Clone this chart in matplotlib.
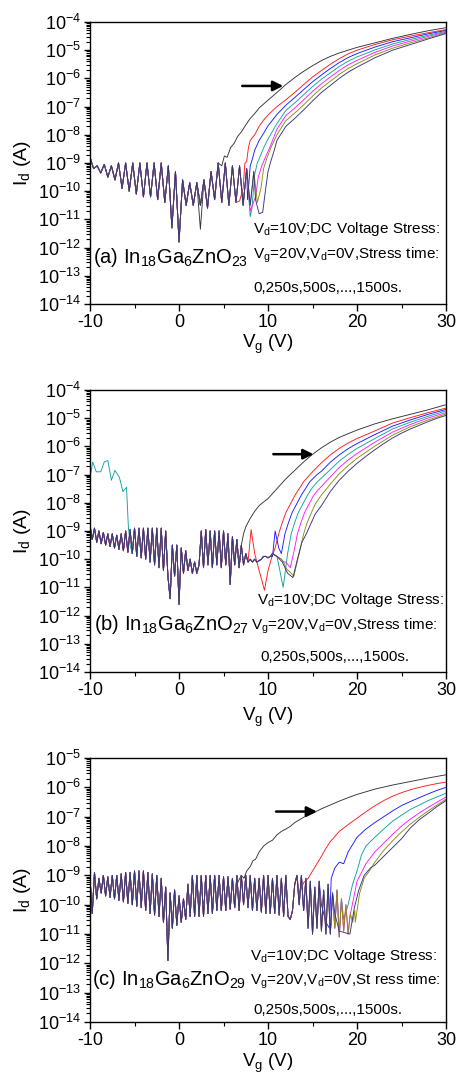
import numpy as np
import matplotlib
matplotlib.use("Agg")
import matplotlib.pyplot as plt
from matplotlib.ticker import LogLocator, MultipleLocator, NullFormatter

plt.rcParams['font.family'] = ['Liberation Sans', 'DejaVu Sans']
plt.rcParams['mathtext.fontset'] = 'custom'
plt.rcParams['mathtext.rm'] = 'Liberation Sans'
plt.rcParams['mathtext.it'] = 'Liberation Sans'
plt.rcParams['mathtext.bf'] = 'Liberation Sans:bold'
plt.rcParams['mathtext.default'] = 'regular'
plt.rcParams['axes.unicode_minus'] = False

# ---------------- data (log10 of Id in A) ----------------
stress_times = [0, 250, 500, 750, 1000, 1250, 1500]
colors = ['#333333', '#ff1a1a', '#1a1aff', '#14a0a0', '#ff1aff', '#8c8c14', '#34347e']

# panel (a): off-state noise, Vg = -10 ... 10 step 0.4
noise_a = [-8.8, -9.2, -9.1, -9.35, -9.05, -9.5, -9.1, -9.6, -9.0, -9.9,
           -9.0, -10.0, -9.0, -10.1, -9.0, -10.2, -9.0, -10.2, -9.0, -10.3,
           -9.0, -10.4, -9.1, -11.3, -9.3, -11.8, -9.6, -10.5, -9.7, -10.5,
           -9.7, -10.5, -9.6, -10.6, -9.3, -10.3, -9.0, -10.4, -9.0, -10.5,
           -9.1, -10.4, -9.1, -10.5, -9.2, -10.5, -9.3, -10.4, -9.5, -10.4,
           -9.6]
a_black = [(2.0, -9.7), (2.4, -11.35), (2.8, -9.6), (3.2, -10.5), (3.6, -9.3), (4.0, -10.2),
           (4.4, -9.0), (4.8, -9.1), (5.1, -8.75), (5.4, -8.8), (5.8, -8.45), (6.2, -8.3),
           (6.6, -8.05), (7.0, -7.9), (7.5, -7.65), (8.0, -7.42), (8.5, -7.25), (9.0, -7.05),
           (10, -6.77), (11, -6.5), (12, -6.22), (13, -5.97), (14, -5.75), (15, -5.55),
           (16, -5.37), (17, -5.22), (18, -5.1), (19, -5.0), (20, -4.9), (22, -4.74),
           (24, -4.58), (26, -4.44), (28, -4.31), (30, -4.2)]
a_red = [(6.8, -10.35), (7.2, -9.9), (7.4, -9.0), (7.6, -8.95), (7.8, -8.45), (8.0, -8.2),
         (8.5, -8.0), (9.0, -7.7), (9.5, -7.48), (10, -7.3), (11, -7.0), (12, -6.76),
         (13, -6.5), (14, -6.22), (15, -5.95), (16, -5.72), (17, -5.5), (18, -5.3),
         (19, -5.13), (20, -5.0), (22, -4.8), (24, -4.63), (26, -4.5), (28, -4.38), (30, -4.27)]
a_blue = [(7.7, -10.3), (8.0, -9.1), (8.2, -8.9), (8.5, -8.55), (9.0, -8.2), (9.5, -7.95),
          (10, -7.68), (11, -7.28), (12, -6.95), (13, -6.68), (14, -6.4), (15, -6.12),
          (16, -5.88), (17, -5.65), (18, -5.44), (19, -5.26), (20, -5.12), (22, -4.89),
          (24, -4.7), (26, -4.56), (28, -4.42), (30, -4.3)]
a_teal = [(8.0, -10.9), (8.2, -10.6), (8.5, -9.4), (8.8, -9.0), (9.2, -8.7), (9.6, -8.4),
          (10, -8.15), (11, -7.6), (12, -7.14), (13, -6.87), (14, -6.58), (15, -6.29),
          (16, -6.03), (17, -5.8), (18, -5.58), (19, -5.39), (20, -5.24), (22, -4.99),
          (24, -4.78), (26, -4.62), (28, -4.47), (30, -4.33)]
a_magenta = [(8.0, -10.7), (8.6, -10.2), (8.9, -9.5), (9.3, -9.1), (9.7, -8.8), (10.2, -8.45),
             (11, -7.8), (12, -7.32), (13, -7.05), (14, -6.76), (15, -6.46), (16, -6.19),
             (17, -5.95), (18, -5.72), (19, -5.52), (20, -5.36), (22, -5.08), (24, -4.85),
             (26, -4.68), (28, -4.51), (30, -4.36)]
a_olive = [(8.8, -10.4), (9.2, -9.9), (9.5, -9.2), (9.9, -8.8), (10.4, -8.4), (11, -8.0),
           (12, -7.5), (13, -7.23), (14, -6.94), (15, -6.63), (16, -6.34), (17, -6.1),
           (18, -5.86), (19, -5.65), (20, -5.48), (22, -5.17), (24, -4.93), (26, -4.74),
           (28, -4.56), (30, -4.38)]
a_navy = [(8.6, -10.3), (9.0, -10.8), (9.4, -10.75), (9.7, -10.0), (10.0, -9.3), (10.3, -8.95),
          (10.7, -8.55), (11, -8.2), (11.5, -7.95), (12, -7.7), (13, -7.42), (14, -7.12),
          (15, -6.8), (16, -6.5), (17, -6.25), (18, -6.0), (19, -5.78), (20, -5.6),
          (22, -5.27), (24, -5.0), (26, -4.8), (28, -4.6), (30, -4.41)]

# panel (b): off-state noise, Vg = -10 ... 14 step 0.25
noise_b = [-8.8, -9.3, -8.9, -9.4, -9.0, -9.45, -9.05, -9.5,
           -9.1, -9.55, -9.1, -9.6, -9.15, -9.65, -9.1, -9.7,
           -9.0, -9.75, -8.95, -9.8, -8.9, -9.9, -8.9, -9.95,
           -8.9, -10.0, -8.9, -10.1, -8.9, -10.2, -8.9, -10.3,
           -8.9, -10.4, -9.0, -10.6, -11.4, -9.5, -10.6, -9.5,
           -11.6, -9.6, -10.5, -9.7, -10.4, -10.0, -10.5, -10.1,
           -10.5, -10.2, -9.0, -10.3, -8.95, -10.2, -9.0, -10.3,
           -9.0, -10.2, -9.0, -10.3, -9.0, -10.2, -9.1, -10.9,
           -9.2, -10.2, -9.3, -10.3, -9.5, -10.2, -9.8, -10.1,
           -10.0, -10.1, -10.0, -10.1, -10.05, -10.0, -9.9, -9.9,
           -9.95, -9.9, -9.8, -9.85, -9.9, -9.95, -10.0, -10.1,
           -10.3, -10.4, -10.5, -10.55, -10.6, -10.2, -9.8, -9.5,
           -9.2]
b_teal_pre = [(-10.0, -7.1), (-9.7, -6.55), (-9.3, -6.9), (-8.8, -6.9), (-8.4, -6.55),
              (-8.0, -6.5), (-7.6, -7.2), (-7.2, -6.85), (-6.7, -7.1), (-6.3, -7.6),
              (-5.9, -7.45), (-5.7, -8.8), (-5.5, -9.5)]
b_black = [(6.75, -10.3), (7.0, -9.5), (7.25, -9.1), (7.5, -8.85), (7.75, -8.7), (8.0, -8.55),
           (8.5, -8.3), (9.0, -8.1), (9.5, -7.97), (10, -7.85), (11, -7.5), (12, -7.15),
           (13, -6.85), (14, -6.55), (15, -6.28), (16, -6.05), (17, -5.85), (18, -5.68),
           (19, -5.55), (20, -5.42), (22, -5.2), (24, -5.02), (26, -4.86), (28, -4.7), (30, -4.52)]
b_red = [(7.75, -10.1), (8.1, -8.95), (8.5, -9.8), (9.0, -10.4), (9.6, -11.1), (10.0, -10.4),
         (10.4, -9.95), (10.8, -9.6), (11.2, -9.1), (11.6, -8.7), (12.0, -8.35), (12.5, -8.05),
         (13, -7.75), (13.5, -7.5), (14, -7.25), (15, -6.9), (16, -6.58), (17, -6.3),
         (18, -6.07), (19, -5.88), (20, -5.72), (22, -5.45), (24, -5.17), (26, -4.98),
         (28, -4.8), (30, -4.64)]
b_blue = [(10.5, -9.9), (10.8, -9.0), (11.2, -9.6), (11.5, -9.8), (11.9, -9.1), (12.3, -8.7),
          (12.7, -8.35), (13.2, -8.05), (13.7, -7.75), (14.2, -7.5), (14.7, -7.25), (15.5, -7.0),
          (16, -6.88), (17, -6.56), (18, -6.3), (19, -6.08), (20, -5.9), (22, -5.58),
          (24, -5.28), (26, -5.06), (28, -4.86), (30, -4.69)]
b_teal = [(11.2, -10.2), (11.7, -11.0), (12.2, -9.8), (12.6, -9.1), (13.0, -8.7), (13.4, -8.35),
          (13.9, -8.05), (14.4, -7.75), (14.9, -7.5), (15.4, -7.3), (16, -7.12), (17, -6.82),
          (18, -6.52), (19, -6.28), (20, -6.07), (22, -5.72), (24, -5.38), (26, -5.14),
          (28, -4.93), (30, -4.74)]
b_magenta = [(12.0, -10.1), (12.5, -10.3), (13.0, -9.6), (13.3, -9.1), (13.7, -8.7), (14.1, -8.35),
             (14.6, -8.05), (15.1, -7.75), (15.6, -7.55), (16, -7.42), (17, -7.08), (18, -6.75),
             (19, -6.48), (20, -6.25), (22, -5.85), (24, -5.49), (26, -5.22), (28, -4.99),
             (30, -4.8)]
b_olive = [(12.3, -10.4), (12.9, -10.6), (13.5, -9.8), (14.0, -9.1), (14.4, -8.7), (14.8, -8.4),
           (15.3, -8.05), (16, -7.72), (17, -7.34), (18, -6.97), (19, -6.68), (20, -6.42),
           (22, -5.99), (24, -5.6), (26, -5.3), (28, -5.06), (30, -4.85)]
b_navy = [(11.0, -9.9), (11.6, -10.1), (12.2, -10.5), (12.8, -10.65), (13.3, -10.0), (13.8, -9.4),
          (14.3, -9.1), (14.8, -8.75), (15.3, -8.4), (16, -8.1), (16.5, -7.85), (17, -7.6),
          (18, -7.2), (19, -6.88), (20, -6.6), (21, -6.35), (22, -6.12), (23, -5.9),
          (24, -5.7), (25, -5.53), (26, -5.38), (27, -5.25), (28, -5.12), (29, -5.0), (30, -4.9)]

# panel (c): off-state noise, Vg = -10 ... 20 step 0.25
noise_c = [-9.1, -10.3, -8.9, -9.8, -9.1, -9.6, -9.0, -9.7,
           -9.05, -9.75, -9.0, -9.8, -9.0, -9.85, -8.95, -9.9,
           -8.9, -9.95, -8.9, -10.0, -8.85, -10.05, -8.85, -10.1,
           -8.85, -10.2, -8.9, -10.3, -8.95, -10.35, -9.0, -10.4,
           -9.1, -10.6, -9.4, -11.9, -9.6, -10.8, -9.5, -10.7,
           -9.7, -10.6, -9.8, -10.5, -9.3, -10.4, -9.0, -10.4,
           -9.0, -10.4, -9.0, -10.4, -9.0, -10.3, -9.0, -10.3,
           -9.0, -10.2, -9.0, -10.2, -9.05, -10.2, -9.05, -10.15,
           -9.1, -10.1, -9.0, -10.2, -9.0, -10.0, -9.0, -10.1,
           -9.0, -10.2, -9.1, -10.2, -9.1, -10.25, -9.0, -10.3,
           -9.0, -10.3, -9.1, -10.3, -9.0, -10.35, -9.1, -10.4,
           -9.0, -10.4, -10.5, -10.2, -9.3, -9.0, -10.0, -9.0,
           -10.2, -9.1, -10.8, -9.2, -11.0, -9.4, -10.8, -9.2,
           -10.9, -9.5, -11.0, -9.3, -11.0, -9.6, -10.8, -9.5,
           -11.1, -9.8, -10.9, -10.0, -11.0, -10.3, -10.6, -10.2,
           -10.6]
c_black = [(6.25, -10.1), (6.5, -9.3), (7.0, -9.0), (7.3, -9.1), (7.6, -8.85), (8.0, -8.7),
           (8.3, -8.5), (8.6, -8.45), (9.0, -8.2), (9.5, -8.0), (10, -7.88), (10.5, -7.8),
           (11, -7.62), (11.5, -7.5), (12, -7.42), (12.5, -7.33), (13, -7.2), (14, -7.02),
           (15, -6.88), (16, -6.73), (17, -6.6), (18, -6.47), (19, -6.35), (20, -6.24),
           (22, -6.06), (24, -5.92), (26, -5.8), (28, -5.68), (30, -5.57)]
c_red = [(13.5, -9.6), (14.0, -9.25), (14.5, -9.1), (15, -8.85), (15.5, -8.6), (16, -8.35),
         (16.5, -8.08), (17, -7.85), (18, -7.5), (19, -7.27), (20, -7.05), (21, -6.83),
         (22, -6.63), (23, -6.45), (24, -6.3), (25, -6.18), (26, -6.08), (27, -6.0),
         (28, -5.93), (29, -5.87), (30, -5.82)]
c_blue = [(16.0, -10.0), (16.5, -10.6), (16.9, -10.8), (17.1, -9.1), (17.5, -8.75), (18, -8.55),
          (18.5, -8.6), (19, -8.2), (19.5, -7.95), (20, -7.7), (21, -7.42), (22, -7.2),
          (23, -7.0), (24, -6.8), (25, -6.62), (26, -6.48), (27, -6.35), (28, -6.22),
          (29, -6.1), (30, -6.0)]
c_teal = [(18.5, -10.5), (19.0, -10.0), (19.5, -9.3), (20, -8.85), (20.5, -8.3), (21, -8.0),
          (22, -7.7), (23, -7.42), (24, -7.15), (25, -6.95), (26, -6.75), (27, -6.6),
          (28, -6.45), (29, -6.32), (30, -6.2)]
c_magenta = [(19.2, -10.4), (19.6, -9.8), (20.0, -9.2), (20.5, -8.9), (21, -8.6), (22, -8.2),
             (23, -7.9), (24, -7.6), (25, -7.32), (26, -7.08), (27, -6.87), (28, -6.68),
             (29, -6.5), (30, -6.33)]
c_olive = [(19.8, -10.6), (20.3, -9.6), (20.8, -9.1), (21.5, -8.8), (22, -8.55), (23, -8.15),
           (24, -7.82), (25, -7.52), (26, -7.25), (27, -7.02), (28, -6.8), (29, -6.6), (30, -6.4)]
c_navy = [(17.5, -10.3), (18.0, -10.9), (18.6, -10.95), (19.2, -11.0), (19.7, -10.1), (20.2, -9.5),
          (20.8, -9.0), (21.5, -8.75), (22, -8.65), (22.5, -8.5), (23, -8.35), (23.5, -8.2),
          (24, -8.05), (24.5, -7.9), (25, -7.75), (26, -7.38), (27, -7.1), (28, -6.88),
          (29, -6.65), (30, -6.45)]

panel_titles = ['(a) In$_{18}$Ga$_6$ZnO$_{23}$', '(b) In$_{18}$Ga$_6$ZnO$_{27}$',
                '(c) In$_{18}$Ga$_6$ZnO$_{29}$']
note_line1 = 'V$_d$=10V;DC Voltage Stress:'
note_line2 = ['V$_g$=20V,V$_d$=0V,Stress time:', 'V$_g$=20V,V$_d$=0V,Stress time:',
              'V$_g$=20V,V$_d$=0V,St ress time:']
note_line3 = '0,250s,500s,...,1500s.'
y_top = [1e-4, 1e-4, 1e-5]
arrow_x = [(7.1, 11.7), (10.6, 15.1), (10.9, 15.5)]
arrow_y = [5.4e-7, 5.3e-7, 1.5e-7]

panels = [
    dict(noise=noise_a, step=0.4, curves=[([], a_black), ([], a_red), ([], a_blue), ([], a_teal),
                                          ([], a_magenta), ([], a_olive), ([], a_navy)]),
    dict(noise=noise_b, step=0.25, curves=[([], b_black), ([], b_red), ([], b_blue),
                                           (b_teal_pre, b_teal), ([], b_magenta), ([], b_olive),
                                           ([], b_navy)]),
    dict(noise=noise_c, step=0.25, curves=[([], c_black), ([], c_red), ([], c_blue), ([], c_teal),
                                           ([], c_magenta), ([], c_olive), ([], c_navy)]),
]

# layout (figure fractions)
axes_rects = [[0.197, 0.718, 0.779, 0.2616],
              [0.197, 0.3766, 0.779, 0.2616],
              [0.197, 0.0519, 0.779, 0.2449]]
text_pos = [
    dict(l1=(0.458, 0.250), t=(0.008, 0.145), l2=(0.458, 0.160), l3=(0.459, 0.042), xl=-0.103),
    dict(l1=(0.468, 0.240), t=(0.010, 0.150), l2=(0.451, 0.150), l3=(0.479, 0.040), xl=-0.12),
    dict(l1=(0.449, 0.235), t=(0.006, 0.140), l2=(0.449, 0.141), l3=(0.459, 0.032), xl=-0.113),
]


def build(noise_vals, step, pre, on):
    vg_noise = -10 + step * np.arange(len(noise_vals))
    lg_noise = np.array(noise_vals)
    lo = pre[-1][0] if pre else -np.inf
    hi = on[0][0]
    m = (vg_noise > lo + 1e-6) & (vg_noise < hi - 1e-6)
    x = np.concatenate([[p[0] for p in pre], vg_noise[m], [p[0] for p in on]])
    y = np.concatenate([[p[1] for p in pre], lg_noise[m], [p[1] for p in on]])
    return x, 10.0 ** y


fig = plt.figure(figsize=(4.57, 10.78), dpi=100)

for i, p in enumerate(panels):
    ax = fig.add_axes(axes_rects[i])
    for k, (pre, on) in enumerate(p['curves']):
        x, y = build(p['noise'], p['step'], pre, on)
        ax.plot(x, y, color=colors[k], lw=0.65, label=f'{stress_times[k]} s')
    ax.set_yscale('log')
    ax.set_xlim(-10, 30)
    ax.set_ylim(1e-14, y_top[i])
    ax.xaxis.set_major_locator(MultipleLocator(10))
    ax.xaxis.set_minor_locator(MultipleLocator(5))
    ax.yaxis.set_major_locator(LogLocator(base=10, numticks=20))
    ax.yaxis.set_minor_locator(LogLocator(base=10, subs=np.arange(2, 10), numticks=20))
    ax.yaxis.set_minor_formatter(NullFormatter())
    ax.tick_params(which='major', direction='out', length=4.5, width=1.0, labelsize=13, pad=2)
    ax.tick_params(axis='x', which='major', length=5, labelsize=13, pad=2)
    ax.tick_params(which='minor', direction='out', length=2.8, width=0.8)
    for s in ax.spines.values():
        s.set_linewidth(1.0)
    ax.set_ylabel('I$_d$ (A)', fontsize=14)
    ax.set_xlabel('V$_g$ (V)', fontsize=13.5)
    ax.yaxis.set_label_coords(-0.16, 0.5)
    ax.xaxis.set_label_coords(0.5, text_pos[i]['xl'])

    tp = text_pos[i]
    ax.text(*tp['l1'], note_line1, transform=ax.transAxes, fontsize=11, va='baseline')
    ax.text(*tp['t'], panel_titles[i], transform=ax.transAxes, fontsize=14.5, va='baseline')
    ax.text(*tp['l2'], note_line2[i], transform=ax.transAxes, fontsize=11, va='baseline')
    ax.text(*tp['l3'], note_line3, transform=ax.transAxes, fontsize=11, va='baseline')

    ax.annotate('', xy=(arrow_x[i][1], arrow_y[i]), xytext=(arrow_x[i][0], arrow_y[i]),
                arrowprops=dict(arrowstyle='-|>', color='black', lw=1.8,
                                mutation_scale=15, shrinkA=0, shrinkB=0))

fig.savefig('out.png', dpi=100)
